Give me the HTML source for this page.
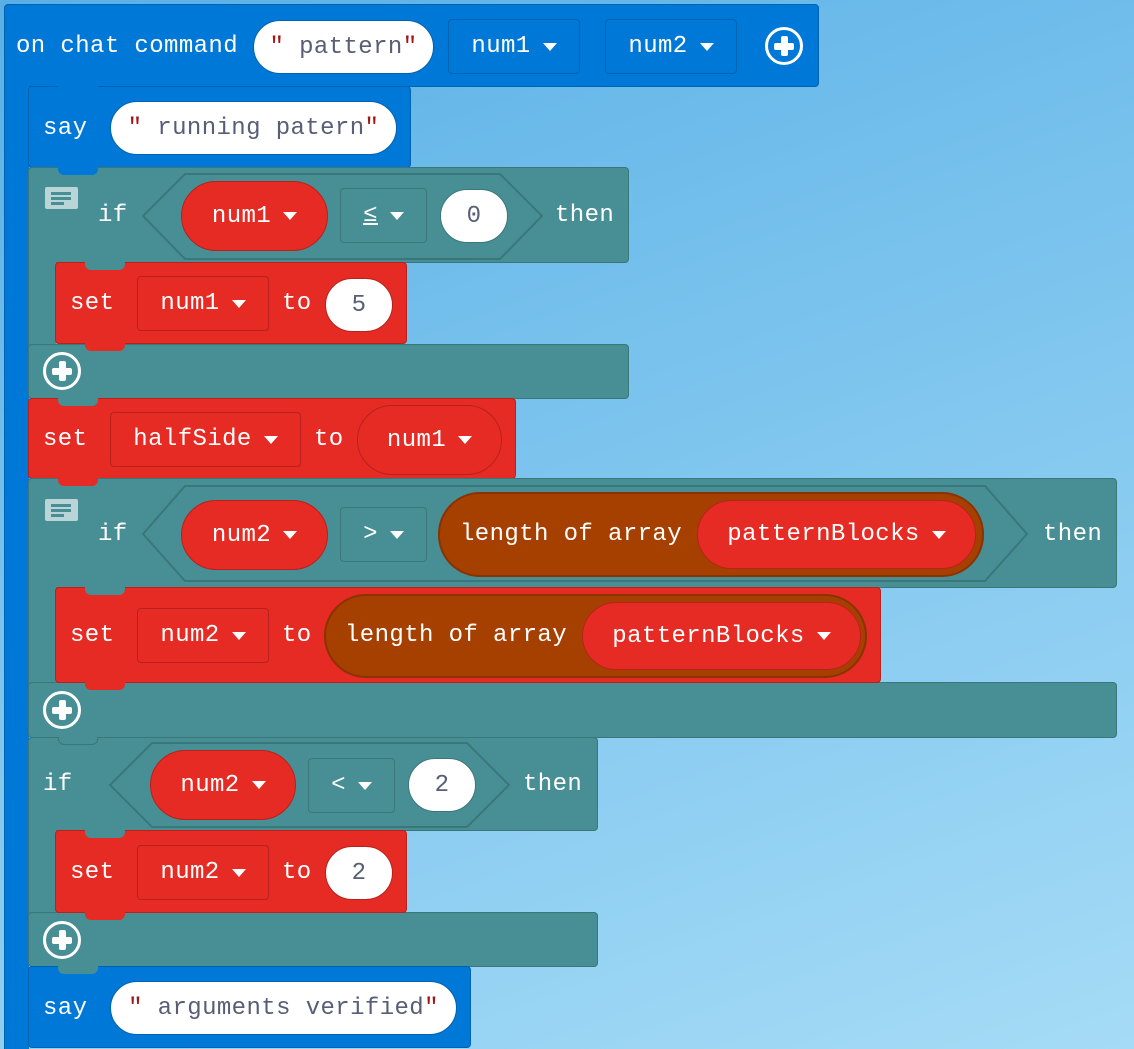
<!DOCTYPE html>
<html><head><meta charset="utf-8"><style>
*{margin:0;padding:0;box-sizing:border-box}
body{width:1134px;height:1049px;overflow:hidden;position:relative;
background:linear-gradient(160deg,#5ab0e6 0%,#7cc4ee 45%,#a5dbf6 100%);
font-family:"Liberation Mono",monospace;font-size:24px;letter-spacing:0.4px;color:#fff}
div,span{position:absolute}
.b{background:#0078d7;border:1px solid #0063b0;border-radius:4px}
.t{background:#478f94;border:1px solid #3a777b;border-radius:4px}
.r{background:#e52b23;border:1px solid #b7221c;border-radius:4px}
.br{background:#a64000;border:2px solid #8a3300;border-radius:42px}
.w{background:#fff;border-radius:30px;color:#575e75;display:flex;align-items:center;justify-content:center}
.q{color:#a31515}
.dd{border-radius:4px;display:flex;align-items:center;justify-content:center}
.db{border:1px solid #0063b0}
.dt{border:1px solid #3a777b}
.dr{border:1px solid #b7221c}
.pill{background:#e52b23;border:1px solid #b7221c;border-radius:40px;display:flex;align-items:center;justify-content:center}
.tri{display:inline-block;width:0;height:0;border-left:7px solid transparent;border-right:7px solid transparent;border-top:8px solid #fff;margin-left:12px;vertical-align:middle}
.lbl{line-height:30px;transform:translateY(-15px);white-space:nowrap}
.plus{width:38px;height:38px;border:3px solid #fff;border-radius:50%}
.plus:before{content:"";position:absolute;left:13px;top:6px;width:7px;height:20px;background:#fff;border-radius:2px}
.plus:after{content:"";position:absolute;left:6px;top:13px;width:20px;height:7px;background:#fff;border-radius:2px}
.com{width:33px;height:22px;background:#b9d5d7;border-radius:2px}
.com i{position:absolute;left:6px;height:3px;background:#478f94}
.n{position:absolute;width:40px;height:8px;border-radius:0 0 6px 6px}
</style></head><body>

<!-- hat block -->
<div class="b" style="left:4px;top:4px;width:815px;height:83px"></div>
<div style="left:4px;top:80px;width:25px;height:969px;background:#0078d7;border-left:1px solid #0063b0"></div>
<span class="lbl" style="left:16px;top:47px">on chat command</span>
<div class="w" style="left:253px;top:20px;width:181px;height:54px;border:1px solid #0063b0"><span style="position:static"><span class="q" style="position:static">" </span>pattern<span class="q" style="position:static">"</span></span></div>
<div class="dd db" style="left:448px;top:19px;width:132px;height:55px">num1<span class="tri" style="position:static"></span></div>
<div class="dd db" style="left:605px;top:19px;width:132px;height:55px">num2<span class="tri" style="position:static"></span></div>
<div class="plus" style="left:765px;top:27px"></div>

<!-- say 1 -->
<div class="b" style="left:28px;top:86px;width:383px;height:82px"></div>
<div class="n" style="left:58px;top:86px;background:#0078d7"></div>
<span class="lbl" style="left:43px;top:129px">say</span>
<div class="w" style="left:110px;top:101px;width:287px;height:54px;border:1px solid #0063b0"><span style="position:static"><span class="q" style="position:static">" </span>running patern<span class="q" style="position:static">"</span></span></div>

<!-- if 1 -->
<div class="t" style="left:28px;top:167px;width:601px;height:96px"></div>
<div class="n" style="left:58px;top:167px;background:#0078d7"></div>
<div style="left:28px;top:250px;width:28px;height:110px;background:#478f94;border-left:1px solid #3a777b"></div>
<div class="t" style="left:28px;top:344px;width:601px;height:55px"></div>
<div class="com" style="left:45px;top:187px"><i style="top:5px;width:20px"></i><i style="top:10px;width:20px"></i><i style="top:15px;width:13px"></i></div>
<span class="lbl" style="left:98px;top:216px">if</span>
<svg style="position:absolute;left:140px;top:172px" width="405" height="90"><polygon points="3,44 45,2 360,2 402,44 360,87 45,87" fill="#478f94" stroke="#3a777b" stroke-width="2"/></svg>
<div class="pill" style="left:181px;top:181px;width:147px;height:70px">num1<span class="tri" style="position:static"></span></div>
<div class="dd dt" style="left:340px;top:188px;width:87px;height:55px"><u>≤</u><span class="tri" style="position:static"></span></div>
<div class="w" style="left:440px;top:189px;width:68px;height:54px;border:1px solid #3a777b">0</div>
<span class="lbl" style="left:555px;top:216px">then</span>
<div class="r" style="left:55px;top:262px;width:352px;height:82px"></div>
<div class="n" style="left:85px;top:262px;background:#478f94"></div>
<span class="lbl" style="left:70px;top:304px">set</span>
<div class="dd dr" style="left:137px;top:276px;width:132px;height:55px">num1<span class="tri" style="position:static"></span></div>
<span class="lbl" style="left:282px;top:304px">to</span>
<div class="w" style="left:325px;top:278px;width:68px;height:54px;border:1px solid #b7221c">5</div>
<div class="n" style="left:85px;top:343px;background:#e52b23"></div>
<div class="plus" style="left:43px;top:352px"></div>

<!-- set halfSide -->
<div class="r" style="left:28px;top:398px;width:488px;height:81px"></div>
<div class="n" style="left:58px;top:398px;background:#478f94"></div>
<span class="lbl" style="left:43px;top:440px">set</span>
<div class="dd dr" style="left:110px;top:412px;width:191px;height:55px">halfSide<span class="tri" style="position:static"></span></div>
<span class="lbl" style="left:314px;top:440px">to</span>
<div class="pill" style="left:357px;top:405px;width:145px;height:70px">num1<span class="tri" style="position:static"></span></div>

<!-- if 2 -->
<div class="t" style="left:28px;top:478px;width:1089px;height:110px"></div>
<div class="n" style="left:58px;top:478px;background:#e52b23"></div>
<div style="left:28px;top:580px;width:28px;height:110px;background:#478f94;border-left:1px solid #3a777b"></div>
<div class="t" style="left:28px;top:682px;width:1089px;height:56px"></div>
<div class="com" style="left:45px;top:499px"><i style="top:5px;width:20px"></i><i style="top:10px;width:20px"></i><i style="top:15px;width:13px"></i></div>
<span class="lbl" style="left:98px;top:535px">if</span>
<svg style="position:absolute;left:140px;top:484px" width="890" height="100"><polygon points="3,50 45,2 845,2 887,50 845,97 45,97" fill="#478f94" stroke="#3a777b" stroke-width="2"/></svg>
<div class="pill" style="left:181px;top:500px;width:147px;height:70px">num2<span class="tri" style="position:static"></span></div>
<div class="dd dt" style="left:340px;top:507px;width:87px;height:55px">&gt;<span class="tri" style="position:static"></span></div>
<div class="br" style="left:438px;top:492px;width:546px;height:85px"></div>
<span class="lbl" style="left:460px;top:535px">length of array</span>
<div class="pill" style="left:697px;top:500px;width:279px;height:69px">patternBlocks<span class="tri" style="position:static"></span></div>
<span class="lbl" style="left:1043px;top:535px">then</span>
<div class="r" style="left:55px;top:587px;width:826px;height:96px"></div>
<div class="n" style="left:85px;top:587px;background:#478f94"></div>
<span class="lbl" style="left:70px;top:636px">set</span>
<div class="dd dr" style="left:137px;top:608px;width:132px;height:55px">num2<span class="tri" style="position:static"></span></div>
<span class="lbl" style="left:282px;top:636px">to</span>
<div class="br" style="left:324px;top:594px;width:543px;height:84px"></div>
<span class="lbl" style="left:345px;top:636px">length of array</span>
<div class="pill" style="left:582px;top:602px;width:279px;height:68px">patternBlocks<span class="tri" style="position:static"></span></div>
<div class="n" style="left:85px;top:682px;background:#e52b23"></div>
<div class="plus" style="left:43px;top:691px"></div>

<!-- if 3 -->
<div class="t" style="left:28px;top:737px;width:570px;height:94px"></div>
<div class="n" style="left:58px;top:737px;background:#478f94;border:1px solid #3a777b;border-top:none"></div>
<div style="left:28px;top:820px;width:28px;height:100px;background:#478f94;border-left:1px solid #3a777b"></div>
<div class="t" style="left:28px;top:912px;width:570px;height:55px"></div>
<span class="lbl" style="left:43px;top:785px">if</span>
<svg style="position:absolute;left:107px;top:741px" width="408" height="90"><polygon points="3,44 45,2 360,2 402,44 360,86 45,86" fill="#478f94" stroke="#3a777b" stroke-width="2"/></svg>
<div class="pill" style="left:150px;top:750px;width:146px;height:70px">num2<span class="tri" style="position:static"></span></div>
<div class="dd dt" style="left:308px;top:758px;width:87px;height:55px">&lt;<span class="tri" style="position:static"></span></div>
<div class="w" style="left:408px;top:758px;width:68px;height:54px;border:1px solid #3a777b">2</div>
<span class="lbl" style="left:523px;top:785px">then</span>
<div class="r" style="left:55px;top:830px;width:352px;height:83px"></div>
<div class="n" style="left:85px;top:830px;background:#478f94"></div>
<span class="lbl" style="left:70px;top:873px">set</span>
<div class="dd dr" style="left:137px;top:845px;width:132px;height:55px">num2<span class="tri" style="position:static"></span></div>
<span class="lbl" style="left:282px;top:873px">to</span>
<div class="w" style="left:325px;top:846px;width:68px;height:54px;border:1px solid #b7221c">2</div>
<div class="n" style="left:85px;top:912px;background:#e52b23"></div>
<div class="plus" style="left:43px;top:921px"></div>

<!-- say 2 -->
<div class="b" style="left:28px;top:966px;width:443px;height:82px"></div>
<div class="n" style="left:58px;top:966px;background:#478f94"></div>
<span class="lbl" style="left:43px;top:1009px">say</span>
<div class="w" style="left:110px;top:981px;width:347px;height:54px;border:1px solid #0063b0"><span style="position:static"><span class="q" style="position:static">" </span>arguments verified<span class="q" style="position:static">"</span></span></div>
</body></html>
